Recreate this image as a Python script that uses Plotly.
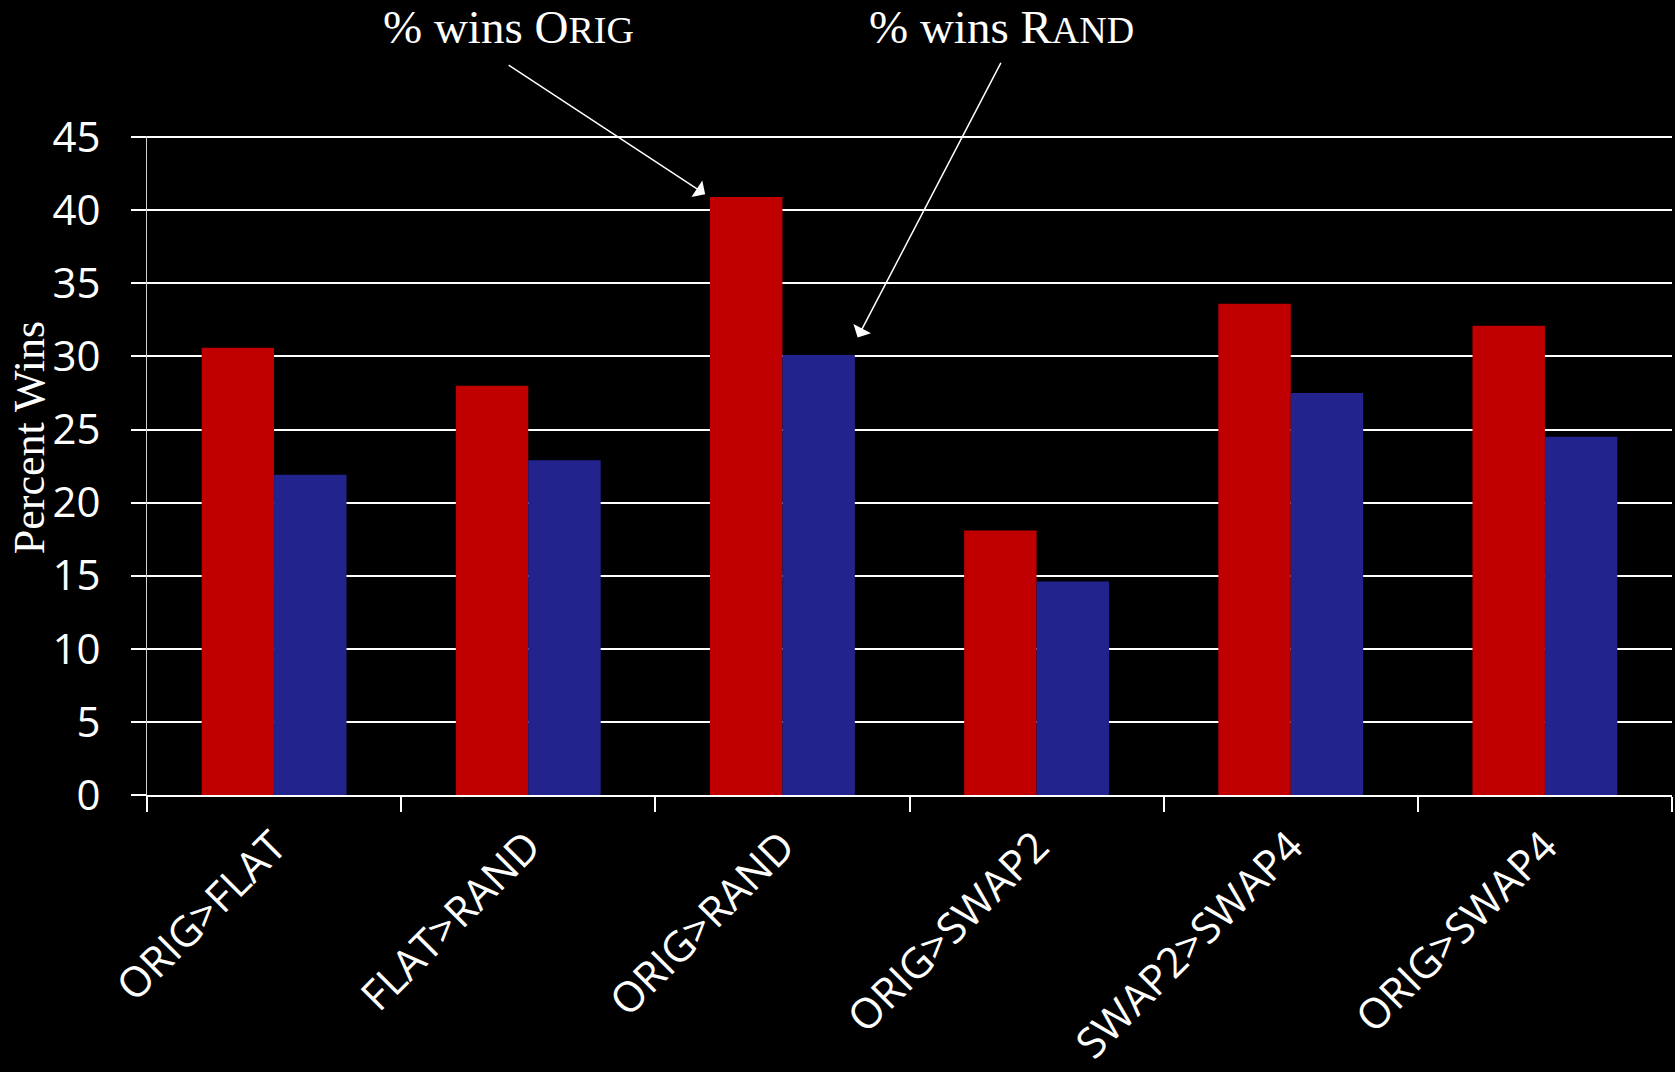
import plotly.graph_objects as go

categories = ['ORIG>FLAT', 'FLAT>RAND', 'ORIG>RAND', 'ORIG>SWAP2', 'SWAP2>SWAP4', 'ORIG>SWAP4']
wins_first = [30.6, 28.0, 40.9, 18.1, 33.6, 32.1]
wins_second = [21.9, 22.9, 30.1, 14.6, 27.5, 24.5]

RED = '#C00000'
BLUE = '#23238E'
SANS = 'Open Sans'
SERIF = 'Liberation Serif'

fig = go.Figure()
fig.add_trace(go.Bar(x=categories, y=wins_first, marker=dict(color=RED, line=dict(width=0)), name='% wins ORIG'))
fig.add_trace(go.Bar(x=categories, y=wins_second, marker=dict(color=BLUE, line=dict(width=0)), name='% wins RAND'))

fig.update_layout(
    width=1675, height=1072,
    margin=dict(l=147, r=3, t=136, b=277),
    paper_bgcolor='black', plot_bgcolor='black',
    barmode='group', bargap=0.43, bargroupgap=0,
    showlegend=False,
    font=dict(family=SANS, color='white', size=40),
    xaxis=dict(
        type='category', tickangle=-45, tickson='boundaries',
        ticks='outside', ticklen=15, tickwidth=2, tickcolor='white',
        showline=True, linecolor='white', linewidth=2, showgrid=False,
        ticklabelstandoff=8, automargin=False,
        tickfont=dict(family=SANS, size=42, color='white'),
    ),
    yaxis=dict(
        range=[0, 45.08], tickvals=[0, 5, 10, 15, 20, 25, 30, 35, 40, 45],
        showgrid=True, gridcolor='white', gridwidth=2,
        ticks='outside', ticklen=15, tickwidth=2, tickcolor='white',
        showline=True, linecolor='#d0d0d0', linewidth=1, zeroline=False,
        ticklabelstandoff=22, automargin=False,
        tickfont=dict(family=SANS, size=42, color='white'),
    ),
)

small = "<span style='font-size:38px'>{}</span>"
fig.add_annotation(text='% wins O' + small.format('RIG'), xref='paper', yref='paper',
                   x=0.237, y=1.165, xanchor='center', yanchor='middle', showarrow=False,
                   font=dict(family=SERIF, size=47, color='white'))
fig.add_annotation(text='% wins R' + small.format('AND'), xref='paper', yref='paper',
                   x=0.560, y=1.165, xanchor='center', yanchor='middle', showarrow=False,
                   font=dict(family=SERIF, size=47, color='white'))

# arrows from labels to the ORIG>RAND bars
fig.add_annotation(text='', xref='paper', yref='y', x=0.366, y=41.1,
                   ax=-198, ay=-130, showarrow=True, arrowhead=1, arrowsize=2.2,
                   arrowwidth=1.5, arrowcolor='white')
fig.add_annotation(text='', xref='paper', yref='y', x=0.466, y=31.3,
                   ax=144, ay=-276, showarrow=True, arrowhead=1, arrowsize=2.2,
                   arrowwidth=1.5, arrowcolor='white')

fig.add_annotation(text='Percent Wins', xref='paper', yref='paper', x=-0.0774, y=0.543,
                   xanchor='center', yanchor='middle', textangle=-90, showarrow=False,
                   font=dict(family=SERIF, size=44, color='white'))

fig.write_html("out.html", config={'displayModeBar': False}, post_script=(
    "document.body.style.margin='0';"
    "document.body.style.background='black';"
    "document.body.style.overflow='hidden';"
))
